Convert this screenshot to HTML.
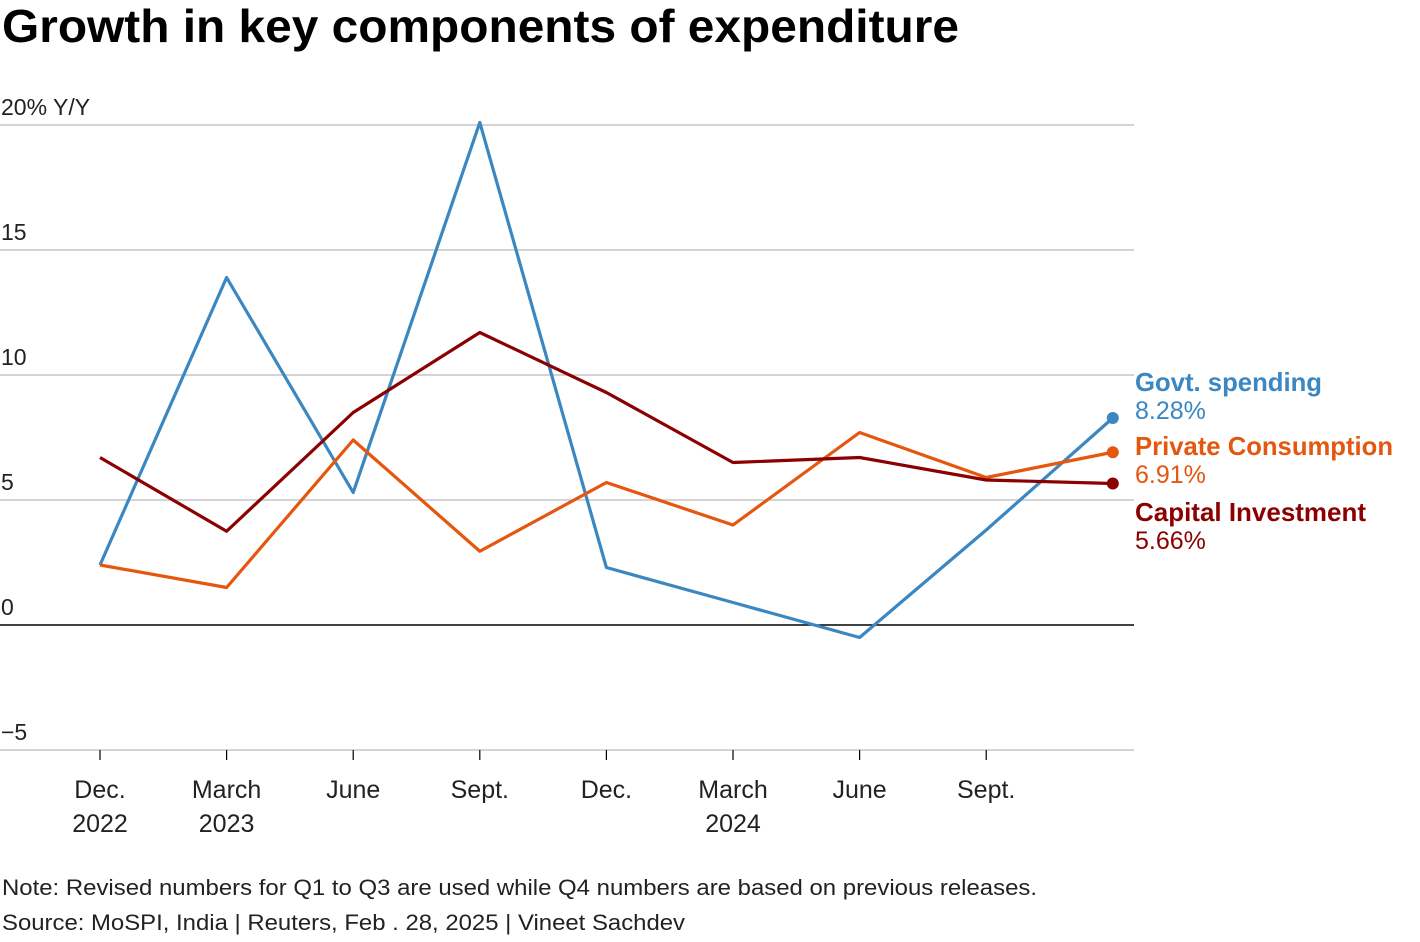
<!DOCTYPE html>
<html><head><meta charset="utf-8"><style>
body{margin:0;background:#fff;font-family:"Liberation Sans",sans-serif;}
svg{display:block}
</style></head><body>
<svg id="chart" width="1420" height="942" xmlns="http://www.w3.org/2000/svg" font-family="Liberation Sans, sans-serif">
<text x="2" y="42" font-size="46" font-weight="bold" textLength="957" lengthAdjust="spacingAndGlyphs" fill="#000">Growth in key components of expenditure</text>
<g id="grid"></g>
<g id="xaxis"></g>
<g id="series"></g>
<g id="legend"></g>
<text x="2" y="895" font-size="22" fill="#222" textLength="1035" lengthAdjust="spacingAndGlyphs">Note: Revised numbers for Q1 to Q3 are used while Q4 numbers are based on previous releases.</text>
<text x="2" y="930" font-size="22" fill="#222" textLength="683" lengthAdjust="spacingAndGlyphs">Source: MoSPI, India | Reuters, Feb . 28, 2025 | Vineet Sachdev</text>
</svg>
<script>
const categories=["Dec.|2022","March|2023","June","Sept.","Dec.","March|2024","June","Sept."];
const yTicks=[20,15,10,5,0,-5];
const yTickLabels=["20% Y/Y","15","10","5","0","\u22125"];
const govt=[2.4,13.9,5.3,20.1,2.3,0.9,-0.5,3.8,8.28];
const priv=[2.4,1.5,7.4,2.95,5.7,4.0,7.7,5.9,6.91];
const capital=[6.7,3.75,8.5,11.7,9.3,6.5,6.7,5.8,5.66];
const seriesNames=["Govt. spending","Private Consumption","Capital Investment"];
const seriesLabels=["8.28%","6.91%","5.66%"];
const NS="http://www.w3.org/2000/svg";
const X=i=>100+i*126.6;
const Y=v=>625-v*25;
function mk(tag,attrs,parent,text){const e=document.createElementNS(NS,tag);for(const k in attrs)e.setAttribute(k,attrs[k]);if(text!==undefined)e.textContent=text;parent.appendChild(e);return e;}
const grid=document.getElementById('grid');
yTicks.forEach((t,i)=>{
 const l=mk('line',{x1:0,x2:1134,y1:Y(t),y2:Y(t),stroke:t===0?'#000':'#bbb','stroke-width':t===0?1.5:1.2},grid);
 
 
 const tx=mk('text',{x:1,y:Y(t)-10,'font-size':23,fill:'#222'},grid,yTickLabels[i]);
 
 
});
const xa=document.getElementById('xaxis');
categories.forEach((c,i)=>{
 const tk=mk('line',{x1:X(i),x2:X(i),y1:750,y2:760,stroke:'#000','stroke-width':1.2},xa);
 
 
 c.split('|').forEach((p,j)=>{if(!p)return;
  const t=mk('text',{x:X(i),y:798+j*34,'font-size':25,fill:'#222','text-anchor':'middle'},xa,p);
  
  
 });
});
const colors=["#3a87c1","#e5560e","#8b0000"];
const sg=document.getElementById('series');
[govt,priv,capital].forEach((d,s)=>{
 const pts=d.map((v,i)=>X(i)+','+Y(v)).join(' ');
 const pl=mk('polyline',{points:pts,fill:'none',stroke:colors[s],'stroke-width':3.2,'stroke-linejoin':'round'},sg);
 
 
 const dot=mk('circle',{cx:X(d.length-1),cy:Y(d[d.length-1]),r:6,fill:colors[s]},sg);
 
 
});
const lg=document.getElementById('legend');
const lgY=[391,455,521];
const lgW=[187,258,231];
seriesNames.forEach((n,s)=>{
 const a=mk('text',{x:1135,y:lgY[s],'font-size':26,fill:colors[s],'font-weight':'bold',textLength:lgW[s],lengthAdjust:'spacingAndGlyphs'},lg,n);
 
 
 const b=mk('text',{x:1135,y:lgY[s]+28,'font-size':25,fill:colors[s]},lg,seriesLabels[s]);
 
 
});
</script>
</body></html>
